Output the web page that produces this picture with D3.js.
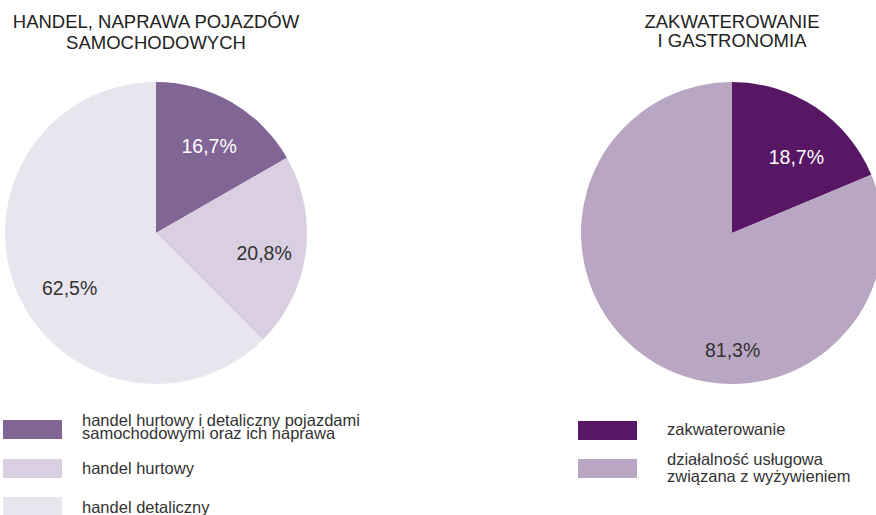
<!DOCTYPE html>
<html>
<head>
<meta charset="utf-8">
<script src="https://cdn.jsdelivr.net/npm/d3@7"></script>
<style>
  body { margin: 0; background: #fff; }
  text { font-family: "Liberation Sans", Arial, sans-serif; }
</style>
</head>
<body>
<script>
// left pie: handel
var tradeCategories = ["handel hurtowy i detaliczny pojazdami|samochodowymi oraz ich naprawa", "handel hurtowy", "handel detaliczny"]
var tradeValues = [16.7, 20.8, 62.5]
var tradeLabels = ["16,7%", "20,8%", "62,5%"]
var tradeTitle = ["HANDEL, NAPRAWA POJAZDÓW", "SAMOCHODOWYCH"]

// right pie: zakwaterowanie
var hotelCategories = ["zakwaterowanie", "działalność usługowa|związana z wyżywieniem"]
var hotelValues = [18.7, 81.3]
var hotelLabels = ["18,7%", "81,3%"]
var hotelTitle = ["ZAKWATEROWANIE", "I GASTRONOMIA"]

var width = 876
var height = 515

var svg = d3.select("body")
    .append("svg")
    .attr("width", width)
    .attr("height", height)

function drawPie(opts) {
    var radius = 151

    var g = svg.append("g")
        .attr("transform", "translate(" + opts.cx + "," + opts.cy + ")")

    var pie = d3.pie().sort(null).value(function (d) { return d })
    var arcs = pie(opts.values)

    var arc = d3.arc().innerRadius(0).outerRadius(radius)
    var labelArc = d3.arc().innerRadius(100).outerRadius(100)

    var color = d3.scaleOrdinal()
        .domain(d3.range(opts.values.length))
        .range(opts.colors)

    g.selectAll("path")
        .data(arcs)
        .enter()
        .append("path")
        .attr("d", arc)
        .attr("fill", function (d, i) { return color(i) })

    // percent labels, nudged a bit from the centroid like in the original
    g.selectAll("text.pct")
        .data(arcs)
        .enter()
        .append("text")
        .attr("class", "pct")
        .attr("x", function (d, i) { return labelArc.centroid(d)[0] + opts.labelShift[i][0] })
        .attr("y", function (d, i) { return labelArc.centroid(d)[1] + opts.labelShift[i][1] })
        .attr("text-anchor", "middle")
        .attr("dy", "0.35em")
        .attr("font-size", "19.5px")
        .attr("fill", function (d, i) { return opts.labelColors[i] })
        .text(function (d, i) { return opts.labels[i] })

    // title
    svg.append("text")
        .attr("x", opts.cx)
        .attr("y", 28)
        .attr("text-anchor", "middle")
        .attr("font-size", "18.5px")
        .attr("fill", "#222")
        .selectAll("tspan")
        .data(opts.title)
        .enter()
        .append("tspan")
        .attr("x", opts.cx)
        .attr("dy", function (d, i) { return i == 0 ? 0 : opts.titleGap })
        .text(function (d) { return d })

    // legend
    var leg = svg.append("g")
    opts.categories.forEach(function (name, i) {
        var y = opts.legendY[i]
        leg.append("rect")
            .attr("x", opts.legendX)
            .attr("y", y)
            .attr("width", 59)
            .attr("height", 19)
            .attr("fill", color(i))
        var lines = name.split("|")
        var t = leg.append("text")
            .attr("font-size", "16.5px")
            .attr("fill", "#333")
        lines.forEach(function (line, j) {
            t.append("tspan")
                .attr("x", opts.legendX + opts.legendTextX)
                .attr("y", y + opts.legendTextDy[i] + j * opts.legendLineGap)
                .text(line)
        })
    })
}

drawPie({
    cx: 156, cy: 233,
    values: tradeValues,
    labels: tradeLabels,
    categories: tradeCategories,
    title: tradeTitle,
    titleGap: 21,
    colors: ["#806595", "#d9cfe1", "#e9e5ee"],
    labelColors: ["#fff", "#333", "#333"],
    labelShift: [[3, 0], [9, 7], [6, 17]],
    legendX: 3,
    legendTextX: 79,
    legendY: [420, 459, 497],
    legendTextDy: [5.5, 15, 16],
    legendLineGap: 13.8
})

drawPie({
    cx: 732, cy: 233,
    values: hotelValues,
    labels: hotelLabels,
    categories: hotelCategories,
    title: hotelTitle,
    titleGap: 19,
    colors: ["#571764", "#b9a6c3"],
    labelColors: ["#fff", "#333"],
    labelShift: [[9, 7], [56, 34]],
    legendX: 578,
    legendTextX: 89,
    legendY: [421, 459],
    legendTextDy: [14, 6],
    legendLineGap: 17
})
</script>
</body>
</html>
